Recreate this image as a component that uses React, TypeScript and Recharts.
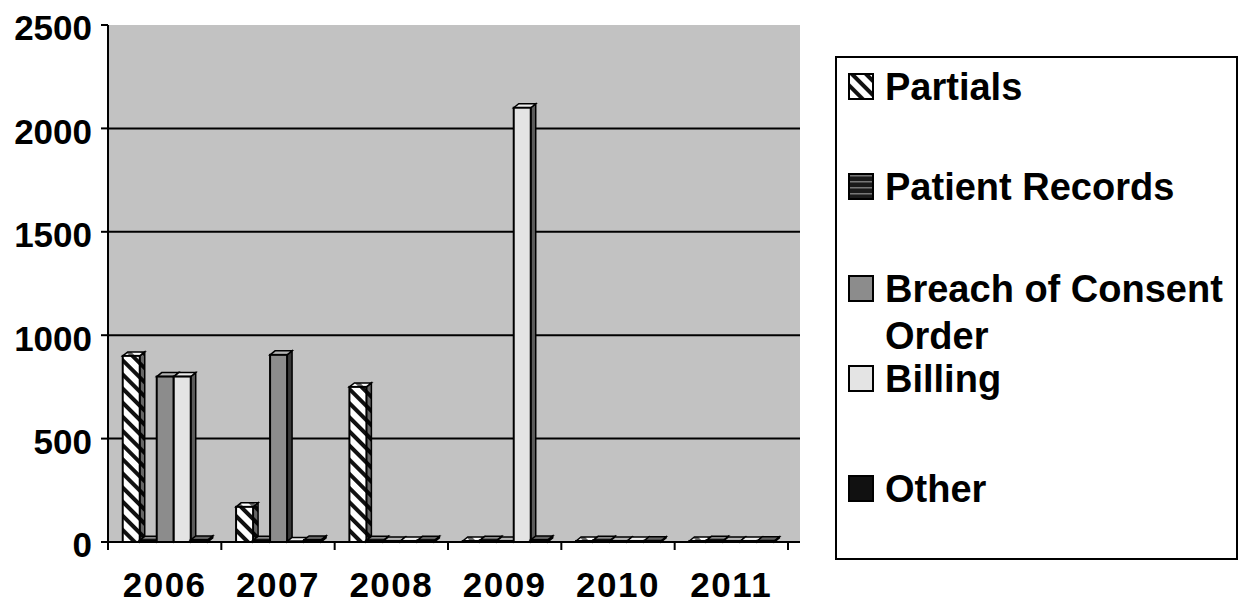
import React from 'react';
import { BarChart, Bar, XAxis, YAxis, CartesianGrid } from 'recharts';

const years = ['2006', '2007', '2008', '2009', '2010', '2011'];
const partials = [900, 170, 750, 5, 5, 5];
const patientRecords = [8, 8, 8, 8, 8, 8];
const breachOfConsentOrder = [800, 905, 5, 5, 5, 5];
const billing = [800, 3, 5, 2100, 5, 5];
const other = [10, 10, 8, 10, 6, 6];
const yTicks = [0, 500, 1000, 1500, 2000, 2500];
const gridValues = [500, 1000, 1500, 2000];

const seriesNames = ['Partials', 'Patient Records', 'Breach of Consent Order', 'Billing', 'Other'];
const seriesKeys = ['partials', 'patientRecords', 'breach', 'billing', 'other'];
const seriesFills = ['url(#hatch)', 'url(#hlines)', '#8c8c8c', '#e4e4e4', '#111111'];

const data = years.map((year, i) => ({
  year,
  partials: partials[i],
  patientRecords: patientRecords[i],
  breach: breachOfConsentOrder[i],
  billing: billing[i],
  other: other[i],
}));

const FONT = '"Liberation Sans", Arial, sans-serif';
const DX = 5;
const DY = 4;
const X_TICK_SIZE = 8;
const X_TICK_MARGIN = 22;

function Bar3D(props: any) {
  const { x, y, width, height, fill } = props;
  if (x == null || y == null) return null;
  const w = width;
  const h = Math.max(0, height);
  const top = `${x},${y} ${x + DX},${y - DY} ${x + w + DX},${y - DY} ${x + w},${y}`;
  const side = `${x + w},${y} ${x + w + DX},${y - DY} ${x + w + DX},${y + h - DY} ${x + w},${y + h}`;
  return (
    <g>
      <polygon points={side} fill={fill} />
      <polygon points={side} fill="rgba(0,0,0,0.6)" stroke="#000" strokeWidth={1.5} />
      <polygon points={top} fill={fill} />
      <polygon points={top} fill="rgba(255,255,255,0.35)" stroke="#000" strokeWidth={1.5} />
      <rect x={x} y={y} width={w} height={h} fill={fill} stroke="#000" strokeWidth={2} />
    </g>
  );
}

function YTick(props: any) {
  const { x, y, payload } = props;
  return (
    <text x={x} y={y + 3} dy="0.355em" textAnchor="end" fontFamily={FONT} fontWeight="bold" fontSize={35} fill="#000">
      {payload.value}
    </text>
  );
}

function XTick(props: any) {
  const { x, y, payload, index, visibleTicksCount } = props;
  const half = payload.offset ?? 56.7;
  const axisY = y - X_TICK_SIZE - X_TICK_MARGIN;
  const last = index === visibleTicksCount - 1;
  return (
    <g>
      <line x1={x - half} y1={axisY} x2={x - half} y2={axisY + X_TICK_SIZE} stroke="#000" strokeWidth={2} />
      {last && <line x1={x + half} y1={axisY} x2={x + half} y2={axisY + X_TICK_SIZE} stroke="#000" strokeWidth={2} />}
      <text x={x} y={y} dy="0.71em" textAnchor="middle" fontFamily={FONT} fontWeight="bold" fontSize={35} letterSpacing={1.5} fill="#000">
        {payload.value}
      </text>
    </g>
  );
}

function Swatch({ fill }: { fill: string }) {
  return (
    <svg width={26} height={27} style={{ display: 'block' }}>
      <rect x={1} y={1} width={24} height={25} fill={fill} stroke="#000" strokeWidth={2} />
    </svg>
  );
}

function ChartLegend() {
  const capTops = [15, 115, 217, 307, 417];
  return (
    <div
      style={{
        position: 'absolute',
        left: 835,
        top: 56,
        width: 403,
        height: 504,
        border: '2px solid #000',
        boxSizing: 'border-box',
        fontFamily: FONT,
        fontWeight: 'bold',
        fontSize: 38,
        color: '#000',
      }}
    >
      {seriesNames.map((name, i) => (
        <div key={name}>
          <div style={{ position: 'absolute', left: 11, top: capTops[i] }}>
            <Swatch fill={seriesFills[i]} />
          </div>
          <div style={{ position: 'absolute', left: 48, top: capTops[i] - 9.5, width: 350, lineHeight: '47px' }}>
            {name}
          </div>
        </div>
      ))}
    </div>
  );
}

export default function App() {
  return (
    <div style={{ position: 'absolute', left: 0, top: 0, width: 1248, height: 606, background: '#fff' }}>
      <BarChart
        width={1248}
        height={606}
        data={data}
        margin={{ top: 25, right: 448, bottom: 0, left: 0 }}
        barCategoryGap="13%"
        barGap={0}
      >
        <defs>
          <pattern id="hatch" patternUnits="userSpaceOnUse" width={10} height={10} patternTransform="rotate(-45)">
            <rect width={10} height={10} fill="#ffffff" />
            <rect width={4} height={10} fill="#111111" />
          </pattern>
          <pattern id="hlines" patternUnits="userSpaceOnUse" width={6} height={6}>
            <rect width={6} height={6} fill="#1a1a1a" />
            <rect y={2} width={6} height={1.5} fill="#777777" />
          </pattern>
        </defs>
        <CartesianGrid
          vertical={false}
          horizontalValues={gridValues}
          fill="#c2c2c2"
          fillOpacity={1}
          stroke="#000"
          strokeWidth={2}
        />
        <XAxis
          dataKey="year"
          interval={0}
          tick={<XTick />}
          tickLine={false}
          tickSize={X_TICK_SIZE}
          tickMargin={X_TICK_MARGIN}
          axisLine={{ stroke: '#000', strokeWidth: 2 }}
          height={64}
          padding={{ left: 0, right: 12 }}
        />
        <YAxis
          domain={[0, 2500]}
          ticks={yTicks}
          interval={0}
          tick={<YTick />}
          tickLine={{ stroke: '#000', strokeWidth: 2 }}
          tickSize={7}
          tickMargin={9}
          axisLine={{ stroke: '#000', strokeWidth: 2 }}
          width={108}
        />
        {seriesKeys.map((key, i) => (
          <Bar
            key={key}
            dataKey={key}
            name={seriesNames[i]}
            fill={seriesFills[i]}
            shape={<Bar3D />}
            isAnimationActive={false}
          />
        ))}
      </BarChart>
      <ChartLegend />
    </div>
  );
}
